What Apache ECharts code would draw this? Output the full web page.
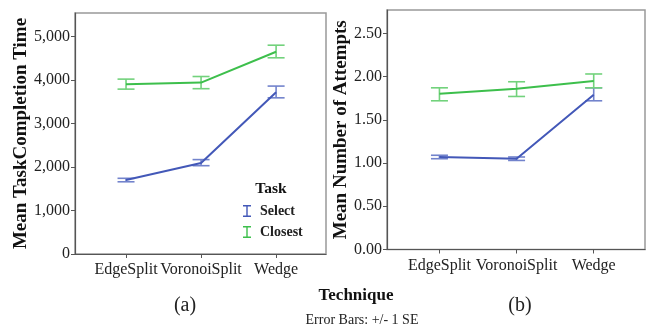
<!DOCTYPE html>
<html>
<head>
<meta charset="utf-8">
<script src="https://cdn.jsdelivr.net/npm/echarts@6/dist/echarts.min.js"></script>
<style>
html,body{margin:0;padding:0;background:#fff;}
#c{width:647px;height:327px;}
</style>
</head>
<body>
<div id="c"></div>
<script>
// ---- data ----
var categories = ['EdgeSplit', 'VoronoiSplit', 'Wedge'];
var taskNames = ['Select', 'Closest'];

// (a) Mean task completion time
var timeSelectMean = [1700, 2090, 3720];
var timeSelectLow  = [1660, 2030, 3590];
var timeSelectHigh = [1740, 2170, 3860];
var timeClosestMean = [3900, 3940, 4650];
var timeClosestLow  = [3790, 3800, 4510];
var timeClosestHigh = [4020, 4080, 4800];

// (b) Mean number of attempts
var attSelectMean = [1.07, 1.05, 1.79];
var attSelectLow  = [1.05, 1.03, 1.72];
var attSelectHigh = [1.09, 1.07, 1.87];
var attClosestMean = [1.80, 1.86, 1.95];
var attClosestLow  = [1.72, 1.77, 1.87];
var attClosestHigh = [1.87, 1.94, 2.03];

var timeTicks = [0, 1000, 2000, 3000, 4000, 5000];
var attTicks = [0, 0.5, 1.0, 1.5, 2.0, 2.5];

// ---- styling ----
var FONT = '"Liberation Serif", "Times New Roman", serif';
var BLUE = '#4358b8';
var GREEN = '#3dbf4c';
var BLUE_EB = '#7283cc';
var GREEN_EB = '#72d27c';

function pts(arr) { return arr.map(function (v, i) { return [i, v]; }); }
function ebData(lo, hi) { return lo.map(function (v, i) { return [i, v, hi[i]]; }); }

function errorSeries(name, lo, hi, color, idx) {
  return {
    type: 'custom',
    name: name + ' SE',
    xAxisIndex: idx, yAxisIndex: idx,
    data: ebData(lo, hi),
    z: 3,
    silent: true,
    renderItem: function (params, api) {
      var x = api.value(0);
      var pLo = api.coord([x, api.value(1)]);
      var pHi = api.coord([x, api.value(2)]);
      var hw = 8.5;
      var st = { stroke: color, lineWidth: 1.6 };
      return {
        type: 'group',
        children: [
          { type: 'line', shape: { x1: pLo[0], y1: pLo[1], x2: pHi[0], y2: pHi[1] }, style: st },
          { type: 'line', shape: { x1: pLo[0] - hw, y1: pLo[1], x2: pLo[0] + hw, y2: pLo[1] }, style: st },
          { type: 'line', shape: { x1: pHi[0] - hw, y1: pHi[1], x2: pHi[0] + hw, y2: pHi[1] }, style: st }
        ]
      };
    }
  };
}

function lineSeries(name, data, color, idx) {
  return {
    type: 'line',
    name: name,
    xAxisIndex: idx, yAxisIndex: idx,
    data: pts(data),
    symbol: 'none',
    z: 4,
    lineStyle: { color: color, width: 2 },
    itemStyle: { color: color }
  };
}

function xAxis(idx) {
  return {
    type: 'value', gridIndex: idx, min: -0.68, max: 2.665,
    axisLine: { show: true, onZero: false, lineStyle: { color: '#555', width: 1.2 } },
    axisTick: { show: true, length: 4, customValues: [0, 1, 2], lineStyle: { color: '#555' } },
    axisLabel: {
      customValues: [0, 1, 2], margin: 8,
      formatter: function (v) { return categories[Math.round(v)]; },
      fontFamily: FONT, fontSize: 16, color: '#222'
    },
    splitLine: { show: false }
  };
}

var ebIcon = 'path://M0,0h8v1.4h-8z M3.3,0h1.4v12h-1.4z M0,10.6h8v1.4h-8z';

var option = {
  animation: false,
  backgroundColor: '#fff',
  grid: [
    { left: 75, top: 13, width: 251, height: 241, show: true, borderColor: '#999', borderWidth: 1.5 },
    { left: 387, top: 10, width: 258, height: 239.5, show: true, borderColor: '#999', borderWidth: 1.5 }
  ],
  xAxis: [xAxis(0), xAxis(1)],
  yAxis: [
    {
      type: 'value', gridIndex: 0, min: 0, max: 5540,
      name: 'Mean TaskCompletion Time', nameLocation: 'middle', nameGap: 43,
      nameTextStyle: { fontFamily: FONT, fontSize: 19, fontWeight: 'bold', color: '#111' },
      axisLine: { show: true, onZero: false, lineStyle: { color: '#555', width: 1.2 } },
      axisTick: { show: true, length: 4, customValues: timeTicks, lineStyle: { color: '#555' } },
      axisLabel: {
        customValues: timeTicks, margin: 5,
        formatter: function (v) { return v.toLocaleString('en-US'); },
        fontFamily: FONT, fontSize: 16, color: '#222'
      },
      splitLine: { show: false }
    },
    {
      type: 'value', gridIndex: 1, min: 0, max: 2.77,
      name: 'Mean Number of Attempts', nameLocation: 'middle', nameGap: 34,
      nameTextStyle: { fontFamily: FONT, fontSize: 19, fontWeight: 'bold', color: '#111' },
      axisLine: { show: true, onZero: false, lineStyle: { color: '#555', width: 1.2 } },
      axisTick: { show: true, length: 4, customValues: attTicks, lineStyle: { color: '#555' } },
      axisLabel: {
        customValues: attTicks, margin: 5,
        formatter: function (v) { return v.toFixed(2); },
        fontFamily: FONT, fontSize: 16, color: '#222'
      },
      splitLine: { show: false }
    }
  ],
  legend: {
    data: taskNames,
    orient: 'vertical', left: 238, top: 199,
    itemWidth: 8, itemHeight: 12, itemGap: 7,
    icon: ebIcon,
    textStyle: { fontFamily: FONT, fontSize: 14, fontWeight: 'bold', color: '#222', padding: [0, 0, 0, 4] },
    selectedMode: false
  },
  title: [
    { text: 'Task', left: 271, top: 181, textAlign: 'center', padding: 0,
      textStyle: { fontFamily: FONT, fontSize: 15.5, fontWeight: 'bold', color: '#111' } },
    { text: 'Technique', left: 356, top: 287, textAlign: 'center', padding: 0,
      textStyle: { fontFamily: FONT, fontSize: 17, fontWeight: 'bold', color: '#111' } },
    { text: 'Error Bars: +/- 1 SE', left: 362, top: 313, textAlign: 'center', padding: 0,
      textStyle: { fontFamily: FONT, fontSize: 14, fontWeight: 'normal', color: '#222' } },
    { text: '(a)', left: 185, top: 296, textAlign: 'center', padding: 0,
      textStyle: { fontFamily: FONT, fontSize: 20, fontWeight: 'normal', color: '#222' } },
    { text: '(b)', left: 520, top: 296, textAlign: 'center', padding: 0,
      textStyle: { fontFamily: FONT, fontSize: 20, fontWeight: 'normal', color: '#222' } }
  ],
  series: [
    lineSeries('Select', timeSelectMean, BLUE, 0),
    lineSeries('Closest', timeClosestMean, GREEN, 0),
    errorSeries('Select', timeSelectLow, timeSelectHigh, BLUE_EB, 0),
    errorSeries('Closest', timeClosestLow, timeClosestHigh, GREEN_EB, 0),
    lineSeries('Select ', attSelectMean, BLUE, 1),
    lineSeries('Closest ', attClosestMean, GREEN, 1),
    errorSeries('Select', attSelectLow, attSelectHigh, BLUE_EB, 1),
    errorSeries('Closest', attClosestLow, attClosestHigh, GREEN_EB, 1)
  ]
};

var chart = echarts.init(document.getElementById('c'), null, { renderer: 'canvas' });
chart.setOption(option);
</script>
</body>
</html>
